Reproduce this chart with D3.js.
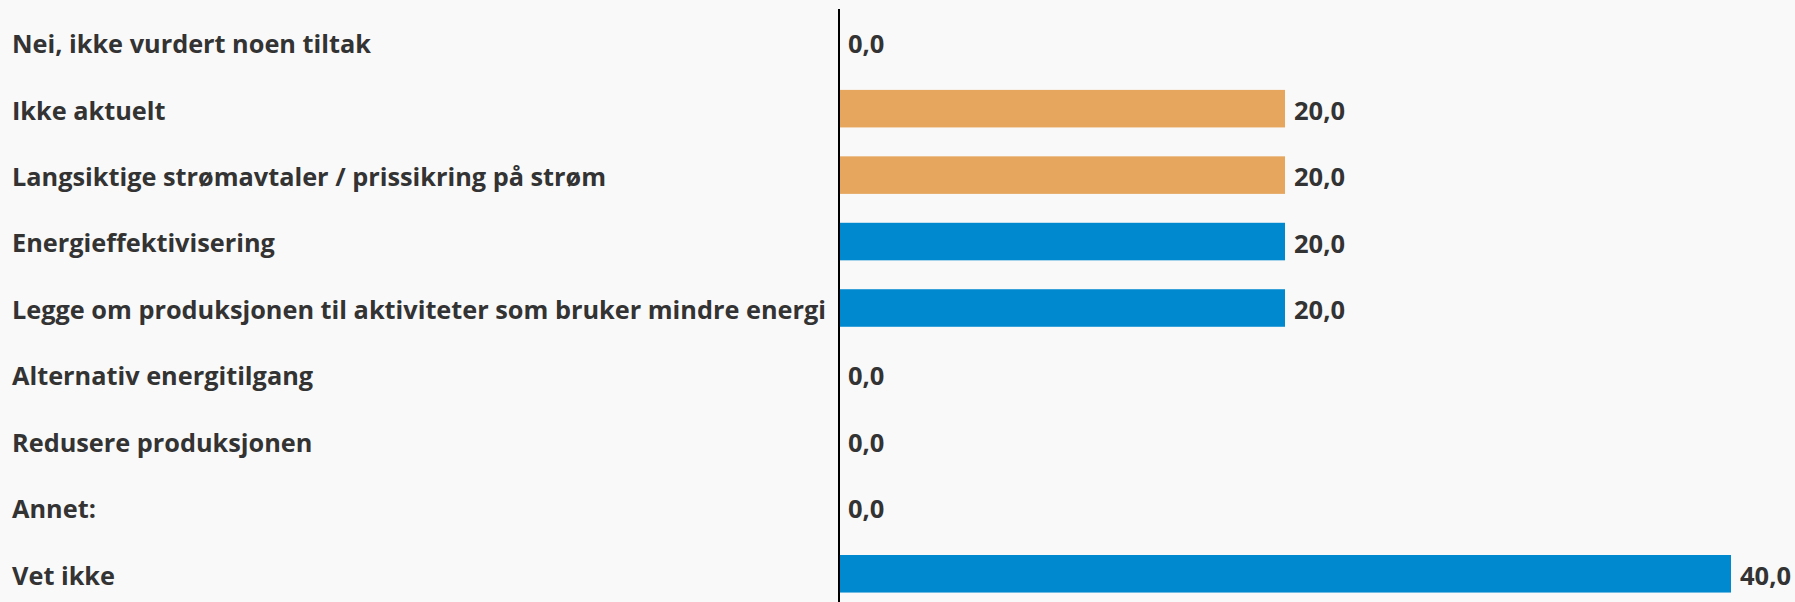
<!DOCTYPE html>
<html>
<head>
<meta charset="utf-8">
<script src="https://cdn.jsdelivr.net/npm/d3@7"></script>
<style>
  html, body { margin: 0; padding: 0; background: #f9f9f9; }
  svg { display: block; }
  text { font-family: "Open Sans", "Noto Sans", sans-serif; font-weight: 700; fill: #333333; }
</style>
</head>
<body>
<svg id="chart" width="1795" height="602"></svg>
<script>
const categories = [
  "Nei, ikke vurdert noen tiltak",
  "Ikke aktuelt",
  "Langsiktige strømavtaler / prissikring på strøm",
  "Energieffektivisering",
  "Legge om produksjonen til aktiviteter som bruker mindre energi",
  "Alternativ energitilgang",
  "Redusere produksjonen",
  "Annet:",
  "Vet ikke"
];
const values = [0, 20, 20, 20, 20, 0, 0, 0, 40];
const barColors = ["#0089cf", "#e6a65e", "#e6a65e", "#0089cf", "#0089cf", "#0089cf", "#0089cf", "#0089cf", "#0089cf"];
const xDomain = [0, 40];

const svg = d3.select("#chart");
const fmt = v => d3.format(".1f")(v).replace(".", ",");

const x = d3.scaleLinear().domain(xDomain).range([839, 1731]);
const y = d3.scaleBand().domain(categories).range([9, 607]).paddingInner(0.435).paddingOuter(0.2175);

const data = categories.map((c, i) => ({ c, v: values[i], color: barColors[i] }));

svg.selectAll("rect.bar").data(data).join("rect")
  .attr("class", "bar")
  .attr("x", x(0))
  .attr("y", d => y(d.c))
  .attr("width", d => x(d.v) - x(0))
  .attr("height", y.bandwidth())
  .attr("fill", d => d.color);

svg.selectAll("text.val").data(data).join("text")
  .attr("class", "val")
  .attr("x", d => x(d.v) + 9)
  .attr("y", d => y(d.c) + y.bandwidth() / 2)
  .attr("dy", "0.43em")
  .style("font-size", "25.5px")
  .text(d => fmt(d.v));

svg.selectAll("text.cat").data(data).join("text")
  .attr("class", "cat")
  .attr("x", 12)
  .attr("y", d => y(d.c) + y.bandwidth() / 2)
  .attr("dy", "0.43em")
  .style("font-size", "25.3px")
  .text(d => d.c);

svg.append("line")
  .attr("x1", x(0)).attr("x2", x(0))
  .attr("y1", 9).attr("y2", 602)
  .attr("stroke", "#000").attr("stroke-width", 2);
</script>
</body>
</html>
